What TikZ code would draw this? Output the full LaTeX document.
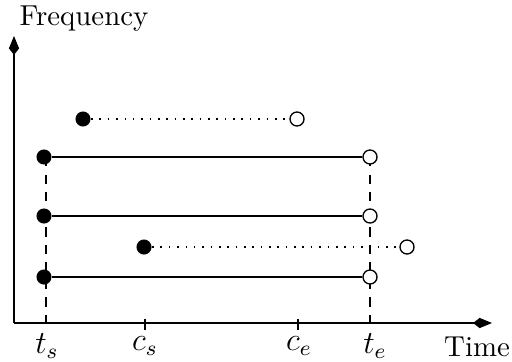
\documentclass[tikz,border=0pt]{standalone}
\usetikzlibrary{arrows.meta, positioning}

\begin{document}
\begin{tikzpicture}[
    x=0.371pt, y=-0.371pt,
    axis/.style={line width=0.55pt, -{Kite[length=7pt, width=3.8pt, inset=2.4pt]}},
    closed/.style={circle, fill=black, inner sep=0pt, minimum size=5.6pt},
    open/.style={circle, draw, fill=white, line width=0.5pt, inner sep=0pt, minimum size=5.2pt},
    full/.style={line width=0.5pt},
    censored/.style={line width=0.5pt, dash pattern=on 0.6pt off 2.5pt},
    guide/.style={line width=0.5pt, dash pattern=on 3.5pt off 3pt},
    tick/.style={line width=0.5pt},
    axislabel/.style={font=\fontsize{10.7}{13}\selectfont},
]
\useasboundingbox (0,0) rectangle (512,361);

% Axes
\coordinate (o) at (14,323);
\coordinate (xend) at (492,323);
\coordinate (yend) at (14,36);
\draw[axis] (o) -- (xend);
\draw[axis] (o) -- (yend);
\node[axislabel] (freq) at (84,19) {Frequency};
\node[axislabel] (time) at (477,347) {Time};

% Ticks on the time axis
\coordinate (ts) at (46,323);
\coordinate (cs) at (145,323);
\coordinate (ce) at (298,323);
\coordinate (te) at (370,323);
\draw[tick] (cs) ++(0,-4) -- ++(0,11);
\draw[tick] (ce) ++(0,-4) -- ++(0,11);
\node (tslab) at (47,346) {\large $t_s$};
\node (cslab) at (145,346) {\large $c_s$};
\node (celab) at (299,346) {\large $c_e$};
\node (telab) at (375,346) {\large $t_e$};

% Guides
\draw[guide] (ts |- 0,157) -- (ts);
\draw[guide] (te |- 0,157) -- (te);

% Intervals
\node[closed] (a1) at (83,119) {};
\node[open] (a2) at (297,119) {};
\node[closed] (b1) at (44,157) {};
\node[open] (b2) at (370,157) {};
\node[closed] (c1) at (44,216) {};
\node[open] (c2) at (370,216) {};
\node[closed] (d1) at (144,247) {};
\node[open] (d2) at (407,247) {};
\node[closed] (e1) at (44,277) {};
\node[open] (e2) at (370,277) {};

\draw[censored] (a1) -- (a2);
\draw[full] (b1) -- (b2);
\draw[full] (c1) -- (c2);
\draw[censored] (d1) -- (d2);
\draw[full] (e1) -- (e2);

\end{tikzpicture}
\end{document}
